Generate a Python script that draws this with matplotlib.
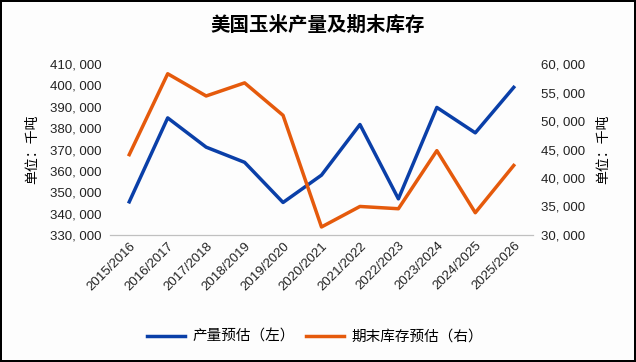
import matplotlib.pyplot as plt
from matplotlib.ticker import FuncFormatter

plt.rcParams['font.family'] = ['Noto Sans CJK SC', 'DejaVu Sans']

years = ['2015/2016', '2016/2017', '2017/2018', '2018/2019', '2019/2020', '2020/2021',
         '2021/2022', '2022/2023', '2023/2024', '2024/2025', '2025/2026']
production = [345500, 384800, 371100, 364000, 345200, 358000, 381700, 346900, 389700, 377800, 399100]
stocks = [44100, 58300, 54400, 56700, 51000, 31400, 35000, 34600, 44800, 33900, 42200]

blue = '#0a3fa8'
orange = '#e55a0c'
tick_font = ['Liberation Sans', 'DejaVu Sans']
fmt = FuncFormatter(lambda v, p: f'{int(v):,}'.replace(',', ', '))

fig = plt.figure(figsize=(6.36, 3.62), dpi=100)
fig.patch.set_facecolor('#fdfdfd')
fig.patch.set_edgecolor('black')
fig.patch.set_linewidth(1.5)

ax = fig.add_axes([0.173, 0.351, 0.665, 0.472])
ax.set_facecolor('#fdfdfd')
x = range(len(years))
l1, = ax.plot(x, production, color=blue, lw=2.5)
ax.set_ylim(330000, 410000)
ax.set_yticks(range(330000, 410001, 10000))
ax.yaxis.set_major_formatter(fmt)
ax.set_xlim(-0.5, 10.5)
ax.set_xticks(list(x))
ax.set_xticklabels(years, rotation=45, ha='right', rotation_mode='anchor')

ax2 = ax.twinx()
l2, = ax2.plot(x, stocks, color=orange, lw=2.5)
ax2.set_ylim(30000, 60000)
ax2.set_yticks(range(30000, 60001, 5000))
ax2.yaxis.set_major_formatter(fmt)

for a in (ax, ax2):
    for s in ('top', 'left', 'right'):
        a.spines[s].set_visible(False)
    a.spines['bottom'].set_color('#c0c0c0')
    a.tick_params(length=0, colors='#222222')
    for t in a.get_xticklabels() + a.get_yticklabels():
        t.set_family(tick_font)
        t.set_fontsize(9.5)
ax.tick_params(axis='y', pad=6)
ax2.tick_params(axis='y', pad=6)

ax.set_ylabel('单位：千吨', fontsize=10, labelpad=8)
ax2.set_ylabel('单位：千吨', fontsize=10, labelpad=8, rotation=90)

fig.text(0.5, 0.93, '美国玉米产量及期末库存', ha='center', va='center',
         fontsize=14, fontweight='bold')
fig.legend([l1, l2], ['产量预估（左）', '期末库存预估（右）'], loc='center',
           bbox_to_anchor=(0.495, 0.069), ncol=2, frameon=False, fontsize=10.5,
           handlelength=2.6, columnspacing=0.8, handletextpad=0.5)

fig.savefig('out.png', dpi=100, facecolor=fig.get_facecolor(), edgecolor=fig.get_edgecolor())
